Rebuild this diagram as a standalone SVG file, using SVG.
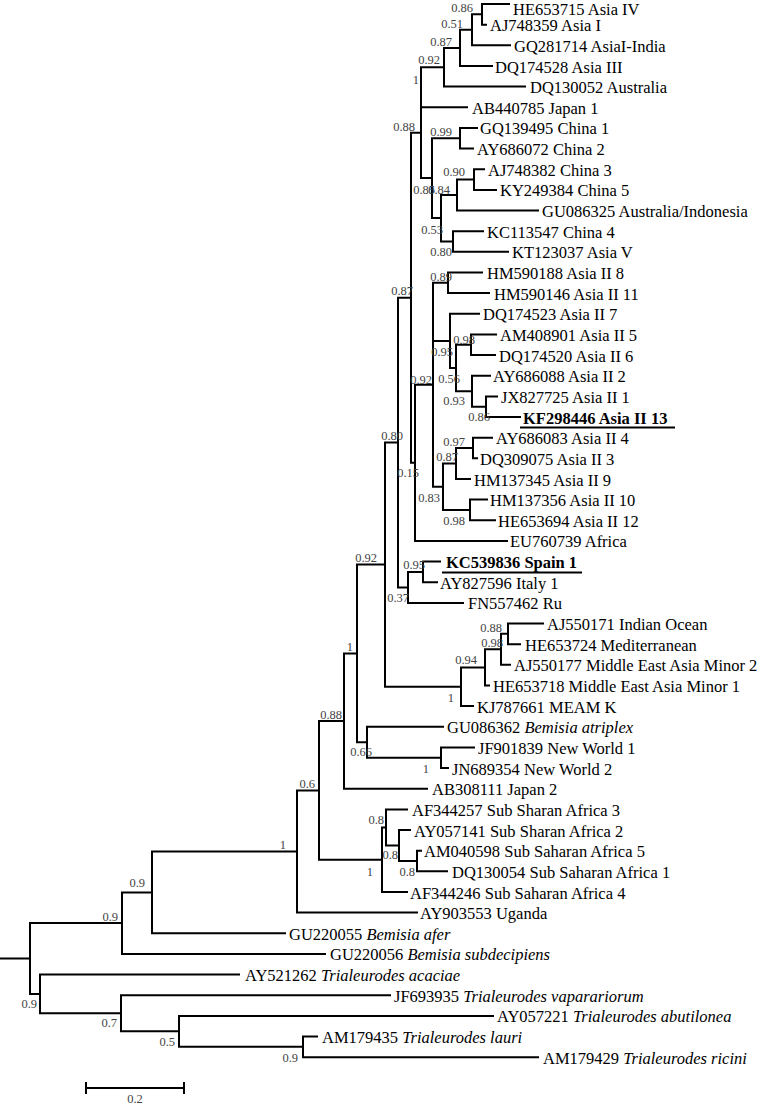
<svg xmlns="http://www.w3.org/2000/svg" width="762" height="1104" viewBox="0 0 762 1104">
<style>
.br{fill:none;stroke:#000;stroke-width:2;stroke-linecap:square}
.lf{font-family:"Liberation Serif","Times New Roman",serif;font-size:16.5px;fill:#000}
.b{font-weight:bold}
.sp{font-family:"Liberation Serif","Times New Roman",serif;font-size:12.5px;fill:#444;text-anchor:end}
.it{font-style:italic}
.ul{stroke:#000;stroke-width:2}
</style>
<rect width="762" height="1104" fill="#fff"/>
<g id="connectors" class="br">
<path d="M0,958.5 H30 M122,923.1 H30 V993.9 H40"/>
<path d="M152,892.4 H122 V953.9 H325"/>
<path d="M297,851.5 H152 V933.3 H285"/>
<path d="M319,790.4 H297 V912.6 H417"/>
<path d="M344,721 H319 V859.7 H382"/>
<path d="M357,653.4 H344 V788.7 H427"/>
<path d="M385,564.6 H357 V742.2 H367"/>
<path d="M398,442.5 H385 V686.7 H461"/>
<path d="M411,297.7 H398 V587.4 H408"/>
<path d="M421,132.7 H411 V462.8 H415"/>
<path d="M421,87.2 V178.1 H432"/>
<path d="M444,67.2 H421 V107.3 H467"/>
<path d="M460,47.9 H444 V86.6 H525"/>
<path d="M472,29.8 H460 V66 H492"/>
<path d="M482,14.3 H472 V45.3 H510"/>
<path d="M509,4 H482 V24.7 H486"/>
<path d="M460,138.2 H432 V218 H441"/>
<path d="M477,127.9 H460 V148.6 H473"/>
<path d="M457,195 H441 V241.5 H453"/>
<path d="M474,179.5 H457 V210.5 H538"/>
<path d="M484,169.2 H474 V189.9 H496"/>
<path d="M483,231.2 H453 V251.8 H508"/>
<path d="M433,384.7 H415 V540.9 H507"/>
<path d="M448,282.8 H433 V486.7 H443 M433,340.9 H450"/>
<path d="M482,272.5 H448 V293.1 H489"/>
<path d="M479,313.8 H450 V368 H456"/>
<path d="M471,344.7 H456 V391.2 H472"/>
<path d="M496,334.4 H471 V355.1 H495"/>
<path d="M490,375.7 H472 V406.7 H486"/>
<path d="M497,396.4 H486 V417 H520"/>
<path d="M456,463.5 H443 V509.9 H470"/>
<path d="M473,448 H456 V479 H470"/>
<path d="M492,437.7 H473 V458.3 H477"/>
<path d="M487,499.6 H470 V520.3 H495"/>
<path d="M423,571.9 H408 V602.9 H463"/>
<path d="M440,561.6 H423 V582.2 H437"/>
<path d="M485,667.4 H461 V706.1 H473"/>
<path d="M501,649.3 H485 V685.5 H489"/>
<path d="M508,633.8 H501 V664.8 H510"/>
<path d="M543,623.5 H508 V644.2 H520"/>
<path d="M443,726.8 H367 V757.7 H441"/>
<path d="M474,747.4 H441 V768.1 H448"/>
<path d="M386,827.4 H382 V892 H407"/>
<path d="M407,809.4 H386 V845.5 H399"/>
<path d="M410,830 H399 V861 H417"/>
<path d="M421,850.7 H417 V871.3 H447"/>
<path d="M239,974.6 H40 V1013.3 H121"/>
<path d="M390,995.2 H121 V1031.3 H179"/>
<path d="M493,1015.9 H179 V1046.8 H303"/>
<path d="M317,1036.5 H303 V1057.2 H538"/>
</g>
<g id="support-values">
<text class="sp" x="473" y="12">0.86</text>
<text class="sp" x="463" y="28">0.51</text>
<text class="sp" x="452" y="46">0.87</text>
<text class="sp" x="440" y="64">0.92</text>
<text class="sp" x="419" y="84">1</text>
<text class="sp" x="415" y="131">0.88</text>
<text class="sp" x="452" y="136">0.99</text>
<text class="sp" x="465" y="176">0.90</text>
<text class="sp" x="435" y="194">0.85</text>
<text class="sp" x="450" y="194">0.84</text>
<text class="sp" x="443" y="234">0.53</text>
<text class="sp" x="452" y="256">0.80</text>
<text class="sp" x="452" y="281">0.89</text>
<text class="sp" x="413" y="295">0.87</text>
<text class="sp" x="475" y="344">0.98</text>
<text class="sp" x="453" y="356">0.95</text>
<text class="sp" x="460" y="383">0.56</text>
<text class="sp" x="432" y="384">0.92</text>
<text class="sp" x="465" y="405">0.93</text>
<text class="sp" x="490" y="421">0.86</text>
<text class="sp" x="403" y="440">0.80</text>
<text class="sp" x="465" y="446">0.97</text>
<text class="sp" x="458" y="461">0.87</text>
<text class="sp" x="419" y="477">0.15</text>
<text class="sp" x="440" y="502">0.83</text>
<text class="sp" x="465" y="525">0.98</text>
<text class="sp" x="377" y="562">0.92</text>
<text class="sp" x="425" y="569">0.95</text>
<text class="sp" x="409" y="602">0.37</text>
<text class="sp" x="502" y="632">0.88</text>
<text class="sp" x="503" y="647">0.98</text>
<text class="sp" x="477" y="664">0.94</text>
<text class="sp" x="353" y="651">1</text>
<text class="sp" x="454" y="702">1</text>
<text class="sp" x="342" y="719">0.88</text>
<text class="sp" x="372" y="756">0.66</text>
<text class="sp" x="429" y="773">1</text>
<text class="sp" x="315" y="788">0.6</text>
<text class="sp" x="384" y="824">0.8</text>
<text class="sp" x="398" y="859">0.8</text>
<text class="sp" x="415" y="876">0.8</text>
<text class="sp" x="373" y="876">1</text>
<text class="sp" x="286" y="849">1</text>
<text class="sp" x="145" y="887">0.9</text>
<text class="sp" x="118" y="921">0.9</text>
<text class="sp" x="37" y="1008">0.9</text>
<text class="sp" x="117" y="1027">0.7</text>
<text class="sp" x="175" y="1046">0.5</text>
<text class="sp" x="298" y="1062">0.9</text>
</g>
<g id="leaves" transform="translate(0,1)">
<g id="leaf-HE653715"><text class="lf" x="513" y="14">HE653715 Asia IV</text></g>
<g id="leaf-AJ748359"><text class="lf" x="490" y="30.2">AJ748359 Asia I</text></g>
<g id="leaf-GQ281714"><text class="lf" x="514" y="50.8">GQ281714 AsiaI-India</text></g>
<g id="leaf-DQ174528"><text class="lf" x="495" y="71.5">DQ174528 Asia III</text></g>
<g id="leaf-DQ130052"><text class="lf" x="530" y="92.1">DQ130052 Australia</text></g>
<g id="leaf-AB440785"><text class="lf" x="472" y="112.8">AB440785 Japan 1</text></g>
<g id="leaf-GQ139495"><text class="lf" x="480" y="133.4">GQ139495 China 1</text></g>
<g id="leaf-AY686072"><text class="lf" x="477" y="154.1">AY686072 China 2</text></g>
<g id="leaf-AJ748382"><text class="lf" x="488" y="174.7">AJ748382 China 3</text></g>
<g id="leaf-KY249384"><text class="lf" x="500" y="195.4">KY249384 China 5</text></g>
<g id="leaf-GU086325"><text class="lf" x="542" y="216">GU086325 Australia/Indonesia</text></g>
<g id="leaf-KC113547"><text class="lf" x="487" y="236.7">KC113547 China 4</text></g>
<g id="leaf-KT123037"><text class="lf" x="512" y="257.3">KT123037 Asia V</text></g>
<g id="leaf-HM590188"><text class="lf" x="487" y="278">HM590188 Asia II 8</text></g>
<g id="leaf-HM590146"><text class="lf" x="494" y="298.6">HM590146 Asia II 11</text></g>
<g id="leaf-DQ174523"><text class="lf" x="483" y="319.3">DQ174523 Asia II 7</text></g>
<g id="leaf-AM408901"><text class="lf" x="500" y="339.9">AM408901 Asia II 5</text></g>
<g id="leaf-DQ174520"><text class="lf" x="499" y="360.6">DQ174520 Asia II 6</text></g>
<g id="leaf-AY686088"><text class="lf" x="493" y="381.2">AY686088 Asia II 2</text></g>
<g id="leaf-JX827725"><text class="lf" x="501" y="401.9">JX827725 Asia II 1</text></g>
<g id="leaf-KF298446"><text class="lf b" x="523" y="422.5">KF298446 Asia II 13</text><line class="ul" x1="520" y1="426.5" x2="675" y2="426.5"/></g>
<g id="leaf-AY686083"><text class="lf" x="496" y="443.2">AY686083 Asia II 4</text></g>
<g id="leaf-DQ309075"><text class="lf" x="480" y="463.8">DQ309075 Asia II 3</text></g>
<g id="leaf-HM137345"><text class="lf" x="474" y="484.5">HM137345 Asia II 9</text></g>
<g id="leaf-HM137356"><text class="lf" x="490" y="505.1">HM137356 Asia II 10</text></g>
<g id="leaf-HE653694"><text class="lf" x="498" y="525.8">HE653694 Asia II 12</text></g>
<g id="leaf-EU760739"><text class="lf" x="510" y="546.4">EU760739 Africa</text></g>
<g id="leaf-KC539836"><text class="lf b" x="446" y="567.1">KC539836 Spain 1</text><line class="ul" x1="442" y1="571.5" x2="582" y2="571.5"/></g>
<g id="leaf-AY827596"><text class="lf" x="440" y="587.7">AY827596 Italy 1</text></g>
<g id="leaf-FN557462"><text class="lf" x="468" y="608.4">FN557462 Ru</text></g>
<g id="leaf-AJ550171"><text class="lf" x="547" y="629">AJ550171 Indian Ocean</text></g>
<g id="leaf-HE653724"><text class="lf" x="525" y="649.7">HE653724 Mediterranean</text></g>
<g id="leaf-AJ550177"><text class="lf" x="514" y="670.3">AJ550177 Middle East Asia Minor 2</text></g>
<g id="leaf-HE653718"><text class="lf" x="493" y="691">HE653718 Middle East Asia Minor 1</text></g>
<g id="leaf-KJ787661"><text class="lf" x="477" y="711.6">KJ787661 MEAM K</text></g>
<g id="leaf-GU086362"><text class="lf" x="447" y="732.3">GU086362 <tspan class="it">Bemisia atriplex</tspan></text></g>
<g id="leaf-JF901839"><text class="lf" x="478" y="752.9">JF901839 New World 1</text></g>
<g id="leaf-JN689354"><text class="lf" x="452" y="773.6">JN689354 New World 2</text></g>
<g id="leaf-AB308111"><text class="lf" x="432" y="794.2">AB308111 Japan 2</text></g>
<g id="leaf-AF344257"><text class="lf" x="412" y="814.9">AF344257 Sub Sharan Africa 3</text></g>
<g id="leaf-AY057141"><text class="lf" x="414" y="835.5">AY057141 Sub Sharan Africa 2</text></g>
<g id="leaf-AM040598"><text class="lf" x="424" y="856.2">AM040598 Sub Saharan Africa 5</text></g>
<g id="leaf-DQ130054"><text class="lf" x="452" y="876.8">DQ130054 Sub Saharan Africa 1</text></g>
<g id="leaf-AF344246"><text class="lf" x="410" y="897.5">AF344246 Sub Saharan Africa 4</text></g>
<g id="leaf-AY903553"><text class="lf" x="420" y="918.1">AY903553 Uganda</text></g>
<g id="leaf-GU220055"><text class="lf" x="289" y="938.8">GU220055 <tspan class="it">Bemisia afer</tspan></text></g>
<g id="leaf-GU220056"><text class="lf" x="330" y="959.4">GU220056 <tspan class="it">Bemisia subdecipiens</tspan></text></g>
<g id="leaf-AY521262"><text class="lf" x="245" y="980.1">AY521262 <tspan class="it">Trialeurodes acaciae</tspan></text></g>
<g id="leaf-JF693935"><text class="lf" x="394" y="1000.7">JF693935 <tspan class="it">Trialeurodes vaparariorum</tspan></text></g>
<g id="leaf-AY057221"><text class="lf" x="497" y="1021.4">AY057221 <tspan class="it">Trialeurodes abutilonea</tspan></text></g>
<g id="leaf-AM179435"><text class="lf" x="322" y="1042">AM179435 <tspan class="it">Trialeurodes lauri</tspan></text></g>
<g id="leaf-AM179429"><text class="lf" x="543" y="1062.7">AM179429 <tspan class="it">Trialeurodes ricini</tspan></text></g>
</g>
<g id="scale-bar">
<path class="br" d="M86,1088 H184 M86,1083 V1093 M184,1083 V1093"/>
<text class="sp" x="135" y="1103" style="text-anchor:middle">0.2</text>
</g>
</svg>
